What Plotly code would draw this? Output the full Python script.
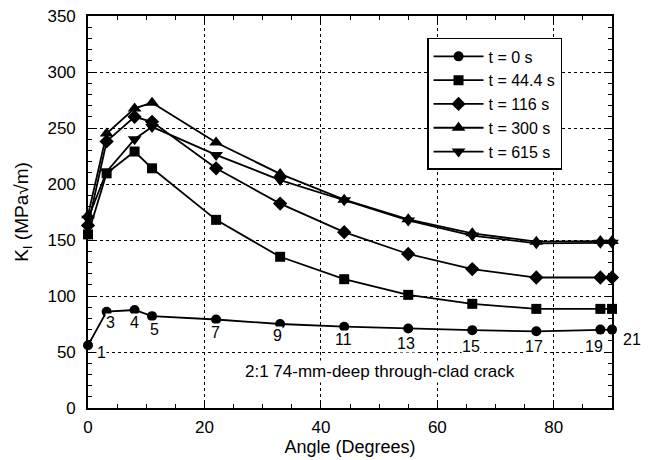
import plotly.graph_objects as go

angle = [0, 3.2, 8, 11, 22, 33, 44, 55, 66, 77, 88, 90]
k_t0 = [56, 86, 87.5, 82, 79, 75, 72.6, 71, 69.5, 68.5, 70, 70]
k_t44 = [155, 209.5, 229, 214, 168, 135, 115, 101, 93, 88.5, 88.5, 88.5]
k_t116 = [163, 238, 260, 255.5, 214, 182.5, 157, 137.5, 124, 116.5, 116.5, 116.5]
k_t300 = [172, 245, 267.5, 272.5, 237, 209, 186, 168.5, 156, 148.5, 149, 149]
k_t615 = [169, 211, 240, 251, 226, 203.5, 185.5, 167.5, 154, 147, 147.5, 147.5]

series_names = ["t = 0 s", "t = 44.4 s", "t = 116 s", "t = 300 s", "t = 615 s"]
series_vals = [k_t0, k_t44, k_t116, k_t300, k_t615]
symbols = ["circle", "square", "diamond", "triangle-up", "triangle-down"]
marker_sizes = [10, 10, 11, 12, 12]

node_labels = ["1", "3", "4", "5", "7", "9", "11", "13", "15", "17", "19"]
node_x = [2.4, 3.8, 7.9, 11.5, 21.9, 32.5, 43.8, 54.7, 65.7, 76.6, 86.9]
node_y = [50, 76, 76, 70.5, 67, 64.5, 61.6, 57.8, 55, 55, 55]
last_node_label = "21"
last_node_x = 91.7
last_node_y = 61.6

FONT = "Liberation Sans, Arial, sans-serif"
X_MAX = 90

fig = go.Figure()
for name, vals, sym, ms in zip(series_names, series_vals, symbols, marker_sizes):
    fig.add_trace(go.Scatter(
        x=angle, y=vals, name=name, mode="lines+markers", cliponaxis=False,
        line=dict(color="black", width=1.8),
        marker=dict(symbol=sym, size=ms, color="black"),
    ))

for lab, x, y in zip(node_labels, node_x, node_y):
    fig.add_annotation(x=x, y=y, text=lab, showarrow=False, xref="x", yref="y",
                       font=dict(size=16, color="black", family=FONT),
                       bgcolor="white", borderpad=0)

fig.add_annotation(x=last_node_x / X_MAX, y=last_node_y, text=last_node_label,
                   showarrow=False, xref="paper", yref="y", xanchor="left",
                   font=dict(size=16, color="black", family=FONT), bgcolor="white", borderpad=0)

fig.add_annotation(x=50.1, y=32.4, text="2:1 74-mm-deep through-clad crack",
                   showarrow=False, xref="x", yref="y",
                   font=dict(size=17, color="black", family=FONT), bgcolor="white")

axis_common = dict(
    showline=True, linecolor="black", linewidth=1.6, mirror="ticks",
    ticks="inside", ticklen=8, tickwidth=1.2, tickcolor="black",
    showgrid=True, gridcolor="black", gridwidth=1.3, griddash="dot",
    zeroline=False, tickfont=dict(size=17, color="black", family=FONT),
    automargin=False,
)

fig.update_xaxes(range=[0, X_MAX], tickvals=[0, 20, 40, 60, 80],
                 minor=dict(ticks="inside", dtick=5, ticklen=4, tickcolor="black", showgrid=False),
                 title=dict(text="Angle (Degrees)", font=dict(size=18, color="black", family=FONT), standoff=0),
                 ticklabelstandoff=3, **axis_common)
fig.update_yaxes(range=[0, 350], tickvals=[0, 50, 100, 150, 200, 250, 300, 350],
                 minor=dict(ticks="inside", dtick=10, ticklen=4, tickcolor="black", showgrid=False),
                 title=dict(text="K<sub>I</sub> (MPa√m)", font=dict(size=19, color="black", family=FONT), standoff=14),
                 ticklabelstandoff=7, **axis_common)

fig.update_layout(
    width=649, height=460,
    margin=dict(l=88, r=37, t=16, b=52),
    plot_bgcolor="white", paper_bgcolor="white",
    showlegend=True,
    legend=dict(x=0.647, y=0.944, xanchor="left", yanchor="top",
                bordercolor="black", borderwidth=1.5, bgcolor="white",
                font=dict(size=16, color="black", family=FONT),
                tracegroupgap=0, itemwidth=50),
)

fig.write_html("out.html")
